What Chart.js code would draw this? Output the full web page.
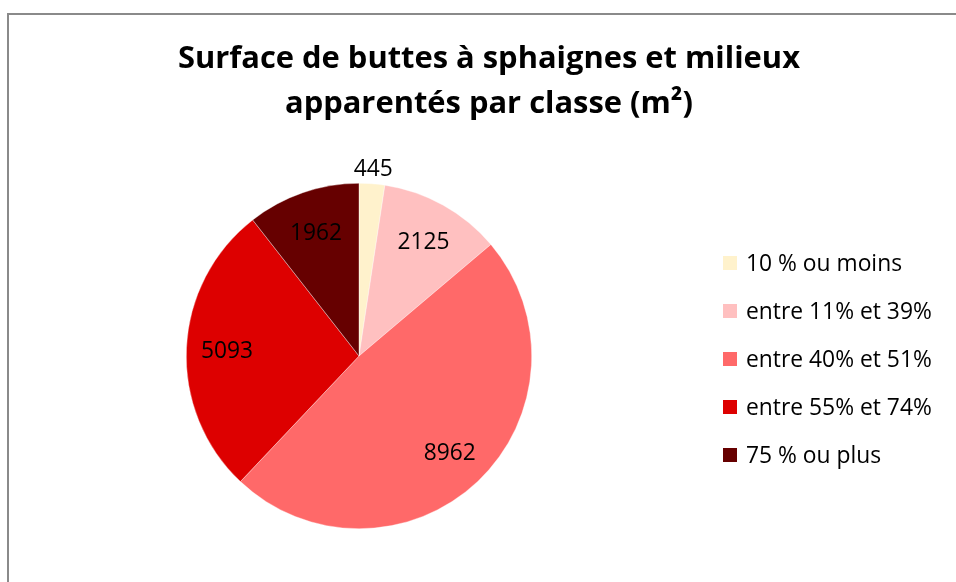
<!DOCTYPE html>
<html>
<head>
<meta charset="utf-8">
<script src="https://cdn.jsdelivr.net/npm/chart.js@4.4.1/dist/chart.umd.min.js"></script>
<style>
  html, body { margin: 0; padding: 0; background: #ffffff; }
  #wrap { width: 956px; height: 582px; position: relative; }
</style>
</head>
<body>
<div id="wrap"><canvas id="c" width="956" height="582"></canvas></div>
<script>
const titleLines = ["Surface de buttes à sphaignes et milieux", "apparentés par classe (m²)"];
const categories = ["10 % ou moins", "entre 11% et 39%", "entre 40% et 51%", "entre 55% et 74%", "75 % ou plus"];
const values = [445, 2125, 8962, 5093, 1962];
const colors = ["#FFF2CC", "#FFC0C0", "#FF6969", "#DD0000", "#660000"];

const FONT = "'Open Sans', 'DejaVu Sans', sans-serif";

const framePlugin = {
  id: 'frame',
  beforeDraw(chart) {
    const ctx = chart.ctx;
    ctx.save();
    ctx.fillStyle = '#ffffff';
    ctx.fillRect(0, 0, chart.width, chart.height);
    ctx.strokeStyle = '#8a8a8a';
    ctx.lineWidth = 2;
    ctx.beginPath();
    ctx.moveTo(8, chart.height + 5);
    ctx.lineTo(8, 14);
    ctx.lineTo(chart.width + 5, 14);
    ctx.stroke();
    ctx.restore();
  }
};

function fitFont(ctx, text, weight, target) {
  ctx.font = weight + " 20px " + FONT;
  const w = ctx.measureText(text).width;
  return 20 * target / w;
}

const titlePlugin = {
  id: 'customTitle',
  afterDraw(chart) {
    const ctx = chart.ctx;
    ctx.save();
    const size = fitFont(ctx, titleLines[0], 'bold', 622);
    ctx.fillStyle = '#000000';
    ctx.font = "bold " + size.toFixed(2) + "px " + FONT;
    ctx.textAlign = 'center';
    ctx.textBaseline = 'middle';
    ctx.fillText(titleLines[0], 489, 59);
    ctx.fillText(titleLines[1], 489, 104);
    ctx.restore();
  }
};

const legendPlugin = {
  id: 'customLegend',
  afterDraw(chart) {
    const ctx = chart.ctx;
    const ds = chart.data.datasets[0];
    ctx.save();
    const size = fitFont(ctx, chart.data.labels[0], 'normal', 156);
    ctx.font = size.toFixed(2) + "px " + FONT;
    ctx.textAlign = 'left';
    ctx.textBaseline = 'middle';
    chart.data.labels.forEach((lab, i) => {
      const cy = 263 + i * 48;
      ctx.fillStyle = ds.backgroundColor[i];
      ctx.fillRect(723, cy - 7, 14, 14);
      ctx.fillStyle = '#000000';
      ctx.fillText(lab, 746, cy + 1.5);
    });
    ctx.restore();
  }
};

const labelPlugin = {
  id: 'sliceLabels',
  afterDatasetsDraw(chart) {
    const ctx = chart.ctx;
    const meta = chart.getDatasetMeta(0);
    const ds = chart.data.datasets[0];
    const total = ds.data.reduce((a, b) => a + b, 0);
    ctx.save();
    const size = fitFont(ctx, '2125', 'normal', 52);
    ctx.font = size.toFixed(2) + "px " + FONT;
    ctx.fillStyle = '#000000';
    ctx.textAlign = 'center';
    ctx.textBaseline = 'middle';
    meta.data.forEach((arc, i) => {
      const p = arc.getProps(['x', 'y', 'startAngle', 'endAngle', 'outerRadius'], true);
      const mid = (p.startAngle + p.endAngle) / 2;
      const frac = ds.data[i] / total;
      const r = frac < 0.05 ? p.outerRadius + 16 : p.outerRadius * 0.765;
      const x = p.x + Math.cos(mid) * r;
      const y = p.y + Math.sin(mid) * r;
      ctx.fillText(String(ds.data[i]), x, y + 2);
    });
    ctx.restore();
  }
};

new Chart(document.getElementById('c'), {
  type: 'pie',
  data: {
    labels: categories,
    datasets: [{
      data: values,
      backgroundColor: colors,
      borderColor: 'rgba(255,255,255,0.6)',
      borderWidth: 0.6
    }]
  },
  options: {
    responsive: false,
    animation: false,
    devicePixelRatio: 1,
    layout: { padding: { left: 186, right: 424, top: 183, bottom: 53 } },
    plugins: {
      legend: { display: false },
      title: { display: false },
      tooltip: { enabled: false }
    }
  },
  plugins: [framePlugin, labelPlugin, titlePlugin, legendPlugin]
});
</script>
</body>
</html>
